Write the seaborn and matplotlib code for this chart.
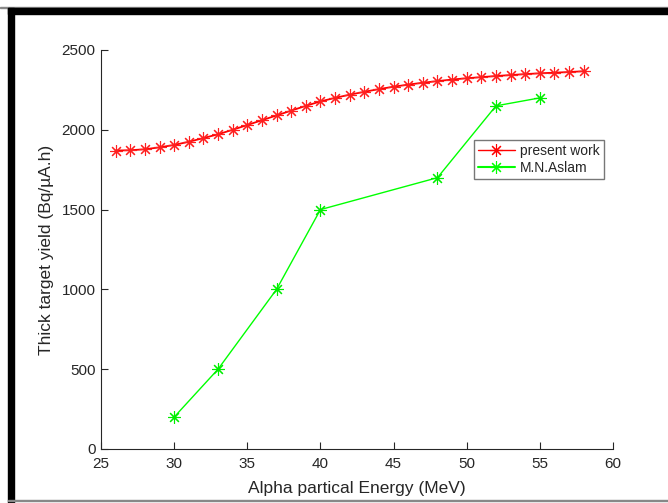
import matplotlib
matplotlib.use("Agg")
import matplotlib.pyplot as plt
import seaborn as sns
import pandas as pd
from matplotlib.patches import Rectangle
from matplotlib.lines import Line2D

# Data
present_energy = list(range(26, 59))
present_yield = [1870, 1872, 1878, 1890, 1905, 1925, 1948, 1972, 2000, 2030,
                 2060, 2090, 2120, 2150, 2178, 2200, 2220, 2238, 2255, 2270,
                 2283, 2295, 2305, 2315, 2323, 2330, 2337, 2343, 2349, 2354,
                 2358, 2362, 2367]
aslam_energy = [30, 33, 37, 40, 48, 52, 55]
aslam_yield = [200, 500, 1000, 1500, 1700, 2150, 2200]
x_ticks = [25, 30, 35, 40, 45, 50, 55, 60]
y_ticks = [0, 500, 1000, 1500, 2000, 2500]

sns.set_theme(style="white")
plt.rcParams['font.family'] = ['Liberation Sans', 'DejaVu Sans']

W, H = 668, 503
fig = plt.figure(figsize=(W / 100, H / 100), dpi=100)
ax = fig.add_axes([101 / W, 1 - 449 / H, 512 / W, 399 / H])

df_p = pd.DataFrame({"E": present_energy, "Y": present_yield})
df_a = pd.DataFrame({"E": aslam_energy, "Y": aslam_yield})

ast = (8, 2, 0)
sns.lineplot(data=df_p, x="E", y="Y", ax=ax, color="#ff0000", lw=1.3,
             marker=ast, markersize=9, markeredgecolor="#ff2020",
             markeredgewidth=0.8, label="present work", legend=False)
sns.lineplot(data=df_a, x="E", y="Y", ax=ax, color="#00ff00", lw=1.0,
             marker=ast, markersize=9, markeredgecolor="#00ee00",
             markeredgewidth=0.8, label="M.N.Aslam", legend=False)

ax.set_xlim(25, 60)
ax.set_ylim(0, 2500)
ax.set_xticks(x_ticks)
ax.set_yticks(y_ticks)
ax.tick_params(direction="in", length=5, width=0.8, colors="#262626",
               labelsize=11, bottom=True, left=True, pad=4)
ax.tick_params(axis="x", pad=6)
for s in ["top", "right"]:
    ax.spines[s].set_visible(False)
for s in ["left", "bottom"]:
    ax.spines[s].set_color("#262626")
    ax.spines[s].set_linewidth(0.8)
ax.set_xlabel("Alpha partical Energy (MeV)", fontsize=12.5, color="#262626", labelpad=7)
ax.set_ylabel("Thick target yield (Bq/µA.h)", fontsize=12.5, color="#262626", labelpad=5)

handles = [
    Line2D([], [], color="#ff0000", lw=1.0, marker=ast, markersize=9, markeredgewidth=0.8),
    Line2D([], [], color="#00ff00", lw=1.5, marker=ast, markersize=9, markeredgewidth=0.8),
]
leg = ax.legend(handles, ["present work", "M.N.Aslam"], loc="upper left",
                bbox_to_anchor=(0.729, 0.775), frameon=True, fancybox=False,
                fontsize=10, handlelength=2.6, borderpad=0.3, labelspacing=0.2,
                handletextpad=0.4, borderaxespad=0)
leg.get_frame().set_edgecolor("#555555")
leg.get_frame().set_linewidth(1.0)

# Figure frame
fig.patches.append(Rectangle((0, 1 - 8 / H), 1, 1 / H, transform=fig.transFigure,
                             color="#888888", zorder=0))
fig.patches.append(Rectangle((8 / W, 1 - 14 / H), 1, 6 / H, transform=fig.transFigure,
                             color="black", zorder=0))
fig.patches.append(Rectangle((8 / W, 0), 6 / W, 1 - 8 / H, transform=fig.transFigure,
                             color="black", zorder=0))
fig.patches.append(Rectangle((8 / W, 2 / H), 1, 1 / H, transform=fig.transFigure,
                             color="#888888", zorder=0))

fig.savefig("out.png", dpi=100)
